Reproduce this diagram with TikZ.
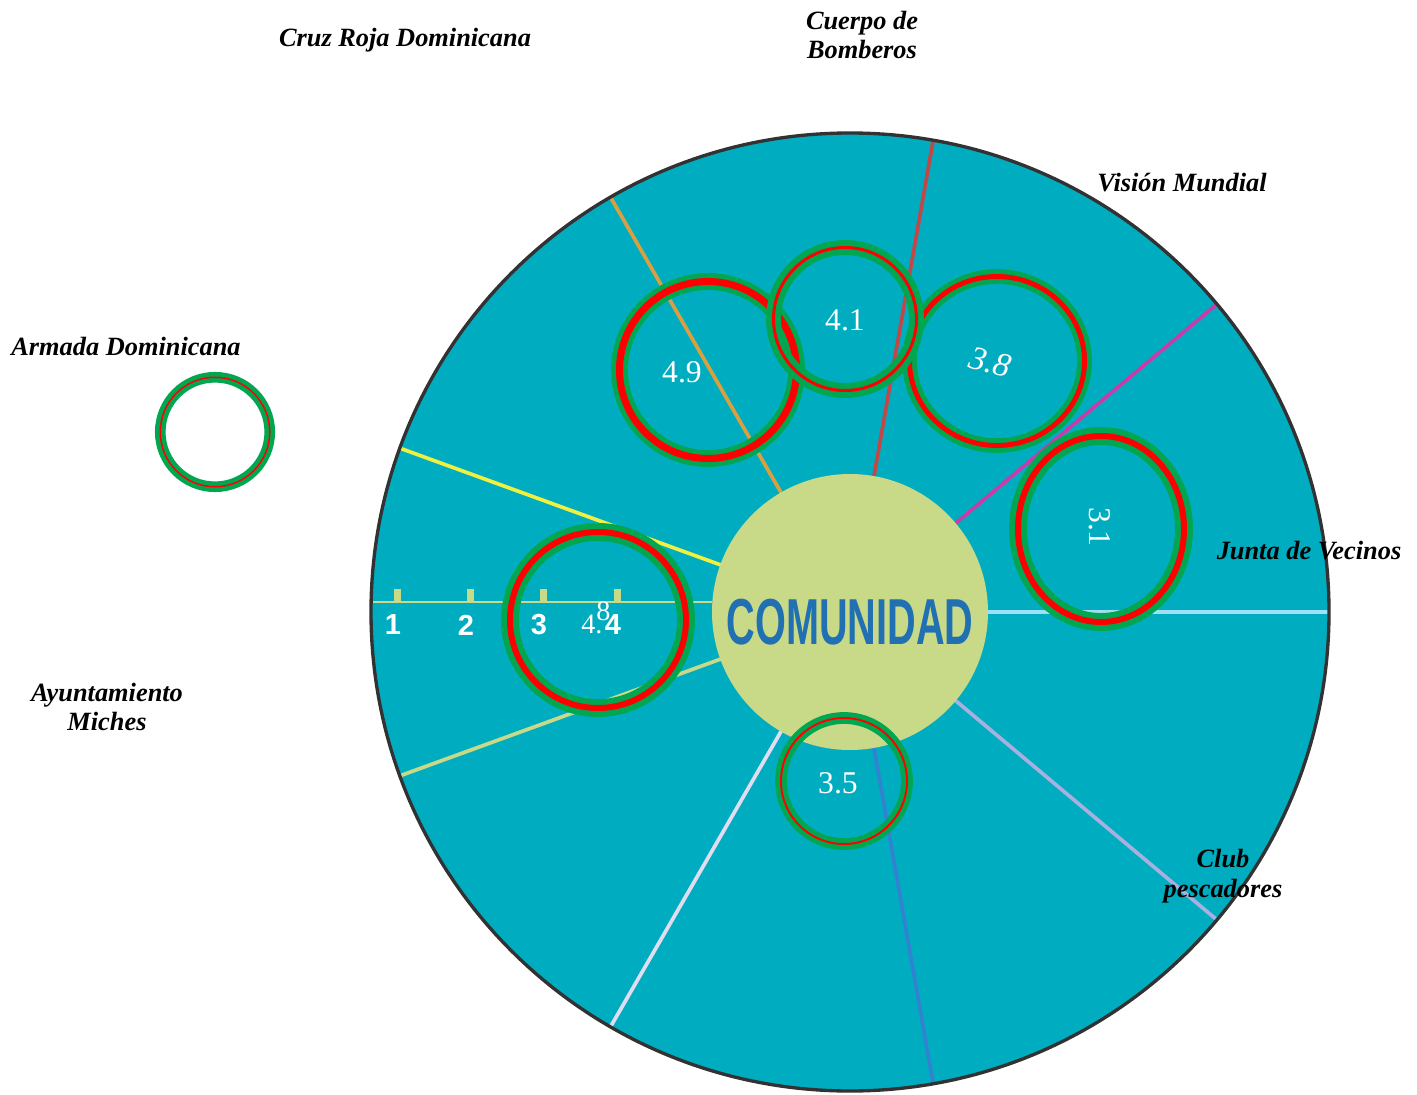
\documentclass[tikz,border=0pt]{standalone}
\usepackage{fontspec}
\setmainfont{Liberation Serif}
\newfontfamily\sansfont{Liberation Sans}
\definecolor{turquesa}{RGB}{0,173,192}
\definecolor{nucleo}{RGB}{200,218,136}
\definecolor{azultexto}{RGB}{32,112,178}
\definecolor{verdeanillo}{RGB}{0,166,80}
\definecolor{rojoanillo}{RGB}{255,0,0}
\definecolor{borde}{RGB}{50,50,50}
\definecolor{celeste}{RGB}{160,224,245}
\definecolor{magenta}{RGB}{200,60,170}
\definecolor{ladrillo}{RGB}{192,72,72}
\definecolor{naranja}{RGB}{218,160,64}
\definecolor{amarillo}{RGB}{240,240,64}
\definecolor{perla}{RGB}{225,220,240}
\definecolor{azulradio}{RGB}{50,130,210}
\definecolor{lavanda}{RGB}{168,176,224}
\tikzset{
  anillo/.style 2 args={verdeanillo,line width=#1,double=rojoanillo,double distance=#2},
  institucion/.style={font=\fontsize{15}{17}\selectfont\bfseries\itshape,align=center,inner sep=0pt},
  valor/.style={text=white,font=\fontsize{18}{20}\selectfont,inner sep=0pt},
  marca/.style={text=white,font=\sansfont\fontsize{16.5}{18}\selectfont\bfseries,inner sep=0pt}
}
% anillo verde con trazo rojo: centro, radio x, radio y, grosor verde, grosor rojo
\newcommand{\anillo}[5]{\draw[anillo={#4}{#5}] (#1) ellipse[x radius=#2,y radius=#3];}

\begin{document}
\begin{tikzpicture}[x=0.02cm,y=0.02cm]
  \useasboundingbox (0,0) rectangle (1417,-1095);
  \coordinate (c) at (850,-612);

  % disco de la comunidad y radios de colores
  \fill[turquesa] (c) circle (479);
  \foreach \a/\col in {0/celeste,40/magenta,80/ladrillo,120/naranja,160/amarillo,
                       200/nucleo,240/perla,280/azulradio,320/lavanda}
    \draw[\col,line width=2.1pt] (c) -- ++(\a:479);

  % escala 1 a 5
  \draw[nucleo,line width=1.2pt] (372,-602) -- (712,-602);
  \foreach \x/\n in {397/1,470/2,543/3,617/4}{
    \fill[nucleo] (\x-3.5,-589) rectangle (\x+3.5,-603);
    \node[marca] (m\n) at (\x-4,-625) {\n};
  }
  \begin{scope}
    \clip (660,-600) rectangle (681,-650);
    \node[marca] (m5) at (684,-625) {5};
  \end{scope}

  % nucleo
  \fill[nucleo] (c) circle (138);
  \node[text=azultexto,font=\sansfont\fontsize{37}{38}\selectfont\bfseries,xscale=0.61,inner sep=0pt]
    (comunidad) at (850,-622) {COMUNIDAD};
  \draw[borde,line width=1.9pt] (c) circle (479);

  % anillos con su valor
  \anillo{708,-370}{88.5}{88.5}{2.8pt}{4pt}
  \anillo{997,-361}{87.5}{84.5}{2.8pt}{2.8pt}
  \anillo{845,-319}{71.5}{71.5}{3.4pt}{1.7pt}
  \anillo{1101,-529}{83}{93}{3.4pt}{3.4pt}
  \anillo{598,-620}{88}{88}{3.4pt}{3.4pt}
  \anillo{844,-781}{63}{63}{2.8pt}{1.1pt}
  \anillo{215,-432}{54.75}{54.75}{2.6pt}{0.85pt}
  \node[valor] (v49) at (682,-372) {4.9};
  \node[valor] (v41) at (845,-320) {4.1};
  \node[valor,font=\fontsize{19}{20}\selectfont\itshape,rotate=-15] (v38) at (990,-362) {3.8};
  \node[valor,rotate=-90] (v31) at (1100,-527) {3.1};
  \node[valor] (v35) at (838,-783) {3.5};
  \node[valor,font=\fontsize{16}{17}\selectfont,anchor=base west] (v48) at (581,-633) {4.\kern-3.5pt\raisebox{7pt}{8}};

  % instituciones
  \node[institucion] (cruz) at (405,-40) {Cruz Roja Dominicana};
  \node[institucion] (bomberos) at (862,-35) {Cuerpo de\\Bomberos};
  \node[institucion] (vision) at (1182,-183) {Visión Mundial};
  \node[institucion] (armada) at (126,-346) {Armada Dominicana};
  \node[institucion] (junta) at (1309,-551) {Junta de Vecinos};
  \node[institucion] (ayto) at (107,-707) {Ayuntamiento\\Miches};
  \node[institucion] (club) at (1223,-876) {Club\\pescadores};
\end{tikzpicture}
\end{document}
